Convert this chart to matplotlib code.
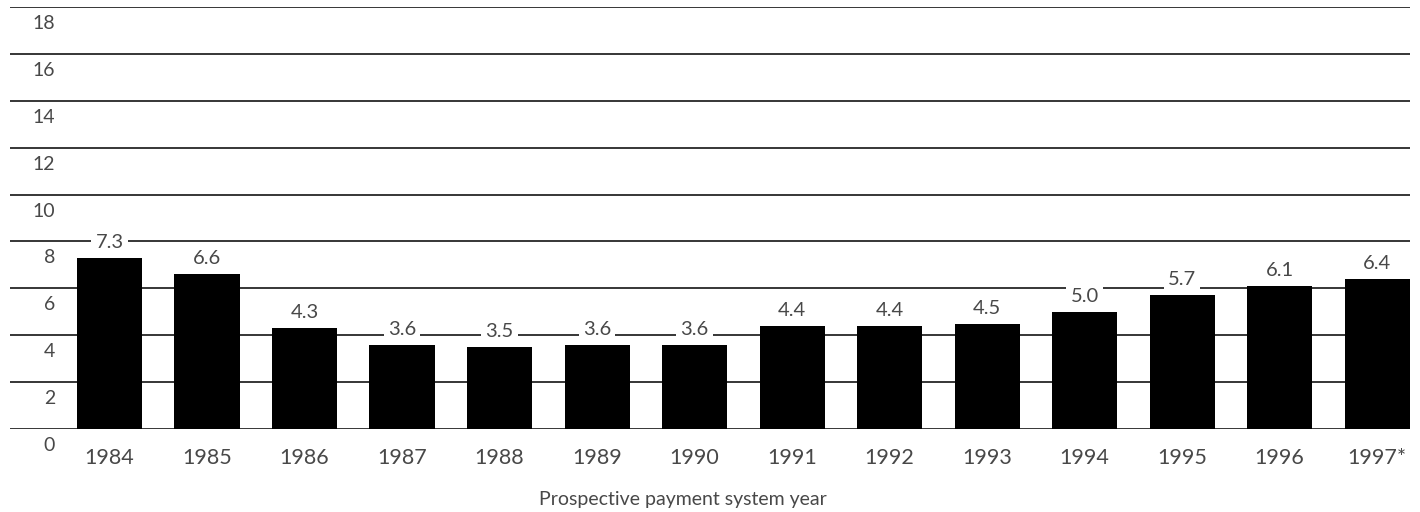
import matplotlib.pyplot as plt

years = ["1984", "1985", "1986", "1987", "1988", "1989", "1990",
         "1991", "1992", "1993", "1994", "1995", "1996", "1997*"]
values = [7.3, 6.6, 4.3, 3.6, 3.5, 3.6, 3.6, 4.4, 4.4, 4.5, 5.0, 5.7, 6.1, 6.4]
y_ticks = [0, 2, 4, 6, 8, 10, 12, 14, 16, 18]
x_title = "Prospective payment system year"

FONT = "Lato"
TEXT = "#484848"

fig = plt.figure(figsize=(14.2, 5.12), dpi=100)
ax = fig.add_axes([10 / 1420, 1 - 429 / 512, 1400 / 1420, 422 / 512])

x = list(range(len(years)))
ax.bar(x, values, width=0.667, color="black", zorder=3)

for t in y_ticks:
    ax.axhline(t, color="black", linewidth=1.1, zorder=1)
    ax.annotate(str(t), xy=(0, t), xycoords=("axes fraction", "data"),
                xytext=(45, -8), textcoords="offset pixels",
                ha="right", va="top", fontsize=14, color=TEXT,
                family=FONT)

for xi, v in zip(x, values):
    ax.annotate(f"{v:.1f}", xy=(xi, v), xytext=(0, 7), textcoords="offset pixels",
                ha="center", va="bottom", fontsize=14.5, color=TEXT,
                family=FONT, zorder=4,
                bbox=dict(boxstyle="square,pad=0.2", fc="white", ec="none"))

for xi, lab in zip(x, years):
    ax.annotate(lab, xy=(xi, 0), xytext=(0, -19), textcoords="offset pixels",
                ha="center", va="top", fontsize=15.5, color=TEXT,
                family=FONT)

ax.set_xlim(-1.0205, 13.338)
ax.set_ylim(0, 18)
ax.axis("off")

fig.text(683 / 1420, 1 - 500 / 512, x_title, ha="center", va="center",
         fontsize=14, color=TEXT, family=FONT)

fig.savefig("out.png", dpi=100)
